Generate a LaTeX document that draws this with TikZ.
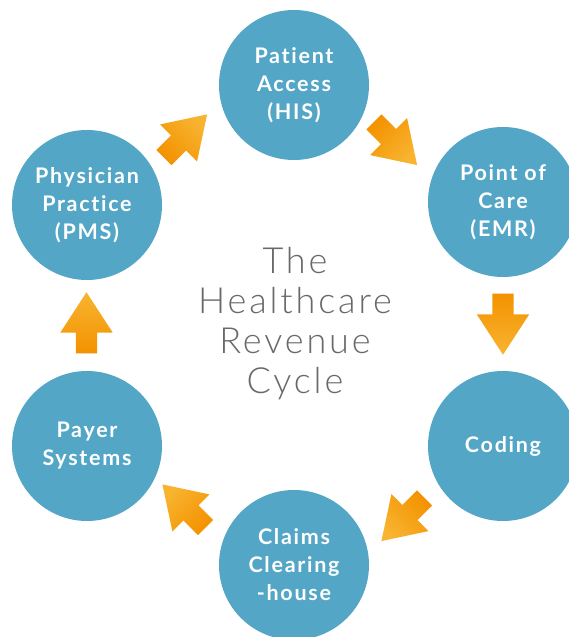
\documentclass[tikz,border=0pt]{standalone}
\usepackage{fontspec}
\setmainfont{Lato}[Ligatures=NoCommon]
\newfontfamily\thinfont{Lato}[UprightFont=* Light, Ligatures=NoCommon]
\usetikzlibrary{shapes.arrows,calc}
\definecolor{cycleblue}{RGB}{83,166,198}
\definecolor{arrowdark}{RGB}{243,146,0}
\definecolor{arrowlight}{RGB}{248,180,48}
\definecolor{titlegray}{RGB}{105,105,105}
\begin{document}
\begin{tikzpicture}[x=1pt,y=1pt,
        stage/.style = {circle,
            minimum size = 150pt,
            inner sep = 0pt,
            fill = cycleblue,
            text = white,
            align = center,
            font = \bfseries\fontsize{21.5}{28}\selectfont\addfontfeatures{LetterSpace=8}},
        flow/.style = {single arrow,
            rotate = #1,
            minimum height = 61pt,
            minimum width = 52pt,
            single arrow head extend = 15.5pt,
            single arrow tip angle = 66,
            inner xsep = 0pt,
            inner ysep = 10.5pt,
            top color = arrowlight,
            bottom color = arrowdark,
            shading angle = #1-90},
        title/.style = {align = center,
            text = titlegray,
            font = \thinfont\fontsize{36}{40}\selectfont\addfontfeatures{LetterSpace=8}}]

        % Page
        \useasboundingbox[fill=white] (0,0) rectangle (569,637);

        % Stages
        \node[stage] (access) at (294,552) {Patient\\Access\\(HIS)};
        \node[stage] (care) at (503,435) {Point of\\Care\\(EMR)};
        \node[stage] (coding) at (503,191) {Coding};
        \node[stage] (claims) at (294,72) {Claims\\Clearing\\-house};
        \node[stage] (payer) at (87,191) {Payer\\Systems};
        \node[stage] (physician) at (87,432) {Physician\\Practice\\(PMS)};

        % Arrows between stages
        \node[flow=45] (a1) at ($(physician)!0.5!(access)+(-10.8,3.2)$) {};
        \node[flow=-45] (a2) at ($(access)!0.5!(care)+(-8.8,5.8)$) {};
        \node[flow=-90] (a3) at ($(care)!0.5!(coding)+(0,8)$) {};
        \node[flow=-135] (a4) at ($(coding)!0.5!(claims)+(10.3,-8.2)$) {};
        \node[flow=135] (a5) at ($(claims)!0.5!(payer)+(-0.7,-6.3)$) {};
        \node[flow=90] (a6) at ($(payer)!0.5!(physician)+(-0.5,-5.5)$) {};

        % Title
        \node[title] (cycle) at (295,313) {The\\Healthcare\\Revenue\\Cycle};

    \end{tikzpicture}
\end{document}
